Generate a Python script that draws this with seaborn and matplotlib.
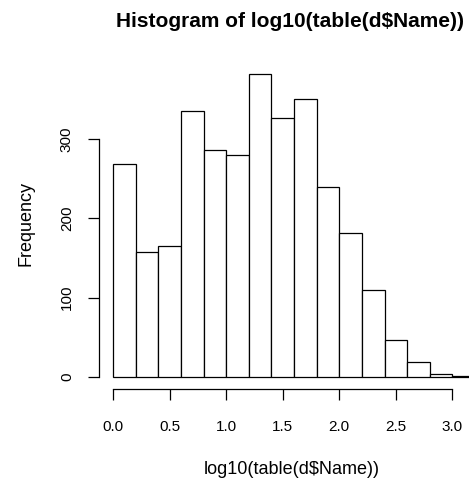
import numpy as np
import pandas as pd
import matplotlib
matplotlib.use("Agg")
import matplotlib.pyplot as plt
import seaborn as sns

# Histogram data (breaks of 0.2 from 0 to 3.2)
bin_edges = [0.0, 0.2, 0.4, 0.6, 0.8, 1.0, 1.2, 1.4, 1.6, 1.8, 2.0,
             2.2, 2.4, 2.6, 2.8, 3.0, 3.2]
counts = [269, 157, 165, 336, 286, 280, 382, 327, 350, 239, 182,
          109, 46, 19, 4, 1]
x_ticks = [0.0, 0.5, 1.0, 1.5, 2.0, 2.5, 3.0]
y_ticks = [0, 100, 200, 300]

centers = [(a + b) / 2 for a, b in zip(bin_edges[:-1], bin_edges[1:])]
df = pd.DataFrame({"x": centers, "w": counts})

sns.set_theme(style="white")
plt.rcParams["font.family"] = ["Liberation Sans", "DejaVu Sans"]

W, H = 469, 482
fig = plt.figure(figsize=(W / 100, H / 100), dpi=100)
# plot region in pixels: x 98.8..489.4, y 62..389 (top-down)
left, right, top, bottom = 98.8, 489.4, 62.0, 389.0
ax = fig.add_axes([left / W, 1 - bottom / H, (right - left) / W, (bottom - top) / H])

sns.histplot(data=df, x="x", weights="w", bins=bin_edges, ax=ax,
             color="white", edgecolor="black", linewidth=0.9, alpha=1.0)

xmin, xmax = bin_edges[0], bin_edges[-1]
xr = xmax - xmin
ax.set_xlim(xmin - 0.04 * xr, xmax + 0.04 * xr)
ymax = max(counts)
ax.set_ylim(-0.04 * ymax, ymax * 1.04)

for s in ["top", "right"]:
    ax.spines[s].set_visible(False)
for s in ["left", "bottom"]:
    ax.spines[s].set_color("black")
    ax.spines[s].set_linewidth(0.9)
ax.spines["left"].set_bounds(y_ticks[0], y_ticks[-1])
ax.spines["bottom"].set_bounds(x_ticks[0], x_ticks[-1])

ax.set_xticks(x_ticks)
ax.set_xticklabels([f"{v:.1f}" for v in x_ticks])
ax.set_yticks(y_ticks)
ax.set_yticklabels([str(v) for v in y_ticks], rotation=90, va="center")
ax.tick_params(axis="both", direction="out", length=7.9, width=0.9,
               color="black", labelsize=11, labelcolor="black",
               bottom=True, left=True)
ax.tick_params(axis="x", pad=14.5)
ax.tick_params(axis="y", pad=10)
ax.set_xlabel("")
ax.set_ylabel("")
ax.grid(False)

def px(x, y):
    return x / W, 1 - y / H

fig.text(*px(290, 27), "Histogram of log10(table(d\\$Name))", fontsize=15,
         fontweight="bold", color="black", ha="center", va="baseline")
fig.text(*px(292, 474), "log10(table(d\\$Name))", fontsize=13,
         color="black", ha="center", va="baseline")
fig.text(*px(30, 224), "Frequency", fontsize=13, color="black",
         rotation=90, rotation_mode="anchor", ha="center", va="baseline")

fig.savefig("out.png", dpi=100, facecolor="white")
